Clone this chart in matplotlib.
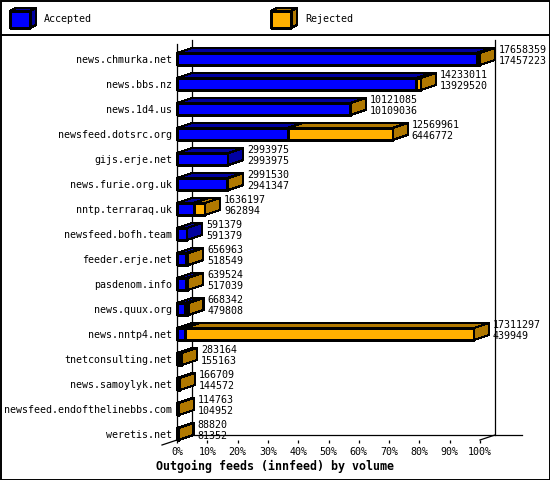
import matplotlib
matplotlib.use("Agg")
import matplotlib.pyplot as plt
from matplotlib.patches import Polygon, Rectangle

feeds = ["news.chmurka.net", "news.bbs.nz", "news.1d4.us", "newsfeed.dotsrc.org",
         "gijs.erje.net", "news.furie.org.uk", "nntp.terraraq.uk", "newsfeed.bofh.team",
         "feeder.erje.net", "pasdenom.info", "news.quux.org", "news.nntp4.net",
         "tnetconsulting.net", "news.samoylyk.net", "newsfeed.endofthelinebbs.com",
         "weretis.net"]
offered = [17658359, 14233011, 10121085, 12569961, 2993975, 2991530, 1636197, 591379,
           656963, 639524, 668342, 17311297, 283164, 166709, 114763, 88820]
accepted = [17457223, 13929520, 10109036, 6446772, 2993975, 2941347, 962894, 591379,
            518549, 517039, 479808, 439949, 155163, 144572, 104952, 81352]
pct_ticks = list(range(0, 101, 10))

BLUE, BLUE_D = "#0000ff", "#0000a0"
ORANGE, ORANGE_D = "#ffb000", "#b07800"
MONO = "DejaVu Sans Mono"

W, H = 550, 480
fig = plt.figure(figsize=(W / 100, H / 100), dpi=100)
fig.patch.set_facecolor("white")

# main axes: 0% at x=177px, 100% at x=480px, front plane y 44..440px
ax = fig.add_axes([177 / W, 40 / H, 303 / W, 396 / H])
ax.set_xlim(0, 100)
ax.set_ylim(15.24, -0.6)
px_x = 303 / 100.0       # pixels per percent
px_y = 396 / 15.84       # pixels per category
DX = 15 / px_x
DY = 5 / px_y
HALF = 6 / px_y          # half height of the front face

for s in ["top", "right", "bottom"]:
    ax.spines[s].set_visible(False)
ax.spines["left"].set_linewidth(0.9)
ax.set_xticks(pct_ticks)
ax.set_xticklabels([f"{p}%" for p in pct_ticks], family=MONO, fontsize=7.2)
ax.tick_params(axis="x", direction="out", length=2.3, width=0.9, pad=2.5)
ax.set_yticks(range(len(feeds)))
ax.set_yticklabels(feeds, family=MONO, fontsize=7.2)
ax.tick_params(axis="y", length=0, pad=3.6)
ax.patch.set_visible(False)

# back wall and floor
y_top_back = -0.6 - 4 / px_y
y_floor_back = 15.24 - DY
line_kw = dict(color="black", lw=0.9, clip_on=False, zorder=1)
ax.plot([DX, DX], [y_top_back, y_floor_back], **line_kw)
ax.plot([100 + DX, 100 + DX], [y_top_back, y_floor_back], **line_kw)
ax.plot([DX, 100 + DX + 27 / px_x], [y_floor_back, y_floor_back], **line_kw)
ax.plot([100, 100 + DX], [15.24, y_floor_back], **line_kw)
ax.plot([-DX, DX], [15.24 + DY, y_floor_back], **line_kw)


def box(x0, x1, yc, face, dark, side):
    top = yc - HALF
    bot = yc + HALF
    kw = dict(edgecolor="black", lw=0.8, clip_on=False, zorder=3, antialiased=False)
    ax.add_patch(Polygon([(x0, top), (x1, top), (x1 + DX, top - DY), (x0 + DX, top - DY)],
                         facecolor=dark, **kw))
    ax.add_patch(Polygon([(x0, top), (x1, top), (x1, bot), (x0, bot)], facecolor=face, **kw))
    if side:
        ax.add_patch(Polygon([(x1, top), (x1 + DX, top - DY), (x1 + DX, bot - DY), (x1, bot)],
                             facecolor=dark, **kw))


vmax = max(offered)
for i, (tot, acc) in enumerate(zip(offered, accepted)):
    a = acc / vmax * 100
    t = tot / vmax * 100
    rej = t - a
    box(0, a, i, BLUE, BLUE_D, rej <= 0)
    if rej > 0:
        box(a, t, i, ORANGE, ORANGE_D, True)
    ax.annotate(str(tot), xy=(t, i), xytext=(19, 9), textcoords="offset pixels",
                ha="left", va="center", family=MONO, fontsize=7.2, annotation_clip=False)
    ax.annotate(str(acc), xy=(t, i), xytext=(19, -1.7), textcoords="offset pixels",
                ha="left", va="center", family=MONO, fontsize=7.2, annotation_clip=False)

fig.text(0.5, 1 - 466.5 / H, "Outgoing feeds (innfeed) by volume", ha="center", va="center",
         family=MONO, fontsize=8.4, fontweight="bold")

# frame and legend in pixel space
lg = fig.add_axes([0, 0, 1, 1])
lg.set_xlim(0, W)
lg.set_ylim(H, 0)
lg.axis("off")
lg.add_patch(Rectangle((0.5, 0.5), W - 1, H - 1, fill=False, edgecolor="black", lw=1.4))
lg.plot([0, W], [35, 35], color="black", lw=1.4)


def cube(x, label, face, dark):
    kw = dict(edgecolor="black", lw=0.8, antialiased=False)
    lg.add_patch(Polygon([(x, 11), (x + 20, 11), (x + 26, 8), (x + 6, 8)], facecolor=dark, **kw))
    lg.add_patch(Polygon([(x + 20, 11), (x + 26, 8), (x + 26, 25), (x + 20, 28)], facecolor=dark, **kw))
    lg.add_patch(Rectangle((x, 11), 20, 17, facecolor=face, **kw))
    lg.text(x + 34, 19.5, label, ha="left", va="center", family=MONO, fontsize=7.2)


cube(10, "Accepted", BLUE, BLUE_D)
cube(271, "Rejected", ORANGE, ORANGE_D)

fig.savefig("out.png", dpi=100)
